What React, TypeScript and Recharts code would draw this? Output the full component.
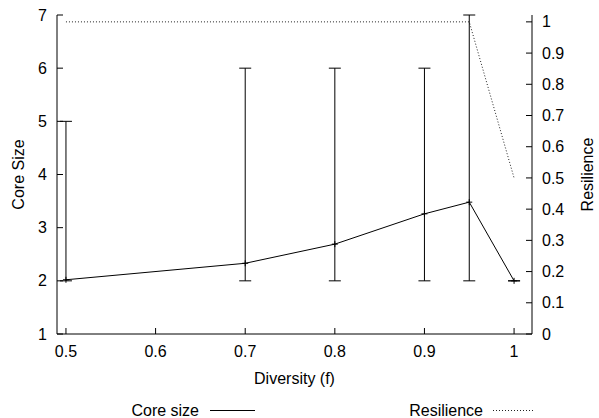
import { ComposedChart, ErrorBar, Line, XAxis, YAxis } from "recharts";

const diversity = [0.5, 0.7, 0.8, 0.9, 0.95, 1.0];
const coreSize = [2.02, 2.33, 2.69, 3.26, 3.48, 2.0];
const coreMin = [2, 2, 2, 2, 2, 2];
const coreMax = [5, 6, 6, 6, 7, 2];
const resilience = [1, 1, 1, 1, 1, 0.5];

const xTicks = [0.5, 0.6, 0.7, 0.8, 0.9, 1];
const coreTicks = [1, 2, 3, 4, 5, 6, 7];
const resilienceTicks = [0, 0.1, 0.2, 0.3, 0.4, 0.5, 0.6, 0.7, 0.8, 0.9, 1];

const FONT = '"Liberation Sans", Arial, sans-serif';
const FONT_SIZE = 16;
const TICK_LEN = 6;

const data = diversity.map((x, i) => ({
  x,
  core: coreSize[i],
  coreErr: [coreSize[i] - coreMin[i], coreMax[i] - coreSize[i]],
  resilience: resilience[i],
}));

function fmt(v: number): string {
  return String(Math.round(v * 10) / 10);
}

// gnuplot style: labels outside, tick marks pointing into the plot
function LeftTick(props: any) {
  const { x, y, payload } = props;
  const axisX = x + 10;
  return (
    <g>
      <line x1={axisX} x2={axisX + TICK_LEN} y1={y} y2={y} stroke="#000" />
      <text x={x} y={y} dy="0.35em" textAnchor="end" fontSize={FONT_SIZE} fontFamily={FONT} fill="#000">
        {fmt(payload.value)}
      </text>
    </g>
  );
}

function RightTick(props: any) {
  const { x, y, payload } = props;
  const axisX = x - 10;
  return (
    <g>
      <line x1={axisX} x2={axisX - TICK_LEN} y1={y} y2={y} stroke="#000" />
      <text x={x} y={y} dy="0.35em" textAnchor="start" fontSize={FONT_SIZE} fontFamily={FONT} fill="#000">
        {fmt(payload.value)}
      </text>
    </g>
  );
}

function BottomTick(props: any) {
  const { x, y, payload } = props;
  const axisY = y - 12;
  return (
    <g>
      <line x1={x} x2={x} y1={axisY} y2={axisY - TICK_LEN} stroke="#000" />
      <text x={x} y={y} dy="0.71em" textAnchor="middle" fontSize={FONT_SIZE} fontFamily={FONT} fill="#000">
        {fmt(payload.value)}
      </text>
    </g>
  );
}

function TopTick(props: any) {
  const { x, y } = props;
  return <line x1={x} x2={x} y1={y} y2={y + TICK_LEN} stroke="#000" />;
}

function AxisTitle(props: any) {
  const { viewBox, title, shiftX = 0, shiftY = 0, turn = 0 } = props;
  const cx = viewBox.x + viewBox.width / 2 + shiftX;
  const cy = viewBox.y + viewBox.height / 2 + shiftY;
  return (
    <text
      x={cx}
      y={cy}
      dy="0.35em"
      transform={turn ? `rotate(${turn} ${cx} ${cy})` : undefined}
      textAnchor="middle"
      fontSize={FONT_SIZE}
      fontFamily={FONT}
      fill="#000"
    >
      {title}
    </text>
  );
}

function PlusDot(props: any) {
  const { cx, cy } = props;
  if (cx == null || cy == null) return null;
  return (
    <path
      d={`M${cx - 3},${cy}h6M${cx},${cy - 3}v6`}
      stroke="#000"
      strokeWidth={1}
    />
  );
}

export default function App() {
  return (
    <div style={{ position: "absolute", left: 0, top: 0, width: 599, height: 418, background: "#fff" }}>
      <ComposedChart
        width={599}
        height={418}
        data={data}
        margin={{ top: 15, right: 0, bottom: 34, left: 0 }}
      >
        <XAxis
          xAxisId="bottom"
          type="number"
          dataKey="x"
          domain={[0.49, 1.02]}
          ticks={xTicks}
          allowDataOverflow
          height={50}
          tickSize={0}
          tickMargin={12}
          tickLine={false}
          axisLine={{ stroke: "#000" }}
          tick={<BottomTick />}
          label={<AxisTitle title="Diversity (f)" shiftY={19} />}
        />
        <XAxis
          xAxisId="top"
          orientation="top"
          type="number"
          dataKey="x"
          domain={[0.49, 1.02]}
          ticks={xTicks}
          allowDataOverflow
          height={0}
          tickSize={0}
          tickMargin={0}
          tickLine={false}
          axisLine={{ stroke: "#000" }}
          tick={<TopTick />}
        />
        <YAxis
          yAxisId="left"
          type="number"
          domain={[1, 7]}
          ticks={coreTicks}
          allowDataOverflow
          width={57}
          tickSize={0}
          tickMargin={10}
          tickLine={false}
          axisLine={{ stroke: "#000" }}
          tick={<LeftTick />}
          label={<AxisTitle title="Core Size" shiftX={-10.5} turn={-90} />}
        />
        <YAxis
          yAxisId="right"
          orientation="right"
          type="number"
          domain={[0, 1.022]}
          ticks={resilienceTicks}
          allowDataOverflow
          width={67}
          tickSize={0}
          tickMargin={10}
          tickLine={false}
          axisLine={{ stroke: "#000" }}
          tick={<RightTick />}
          label={<AxisTitle title="Resilience" shiftX={22} turn={-90} />}
        />
        <Line
          xAxisId="top"
          yAxisId="right"
          dataKey="resilience"
          name="Resilience"
          type="linear"
          stroke="#222"
          strokeWidth={1}
          strokeDasharray="1 2"
          dot={false}
          activeDot={false}
          isAnimationActive={false}
        />
        <Line
          xAxisId="bottom"
          yAxisId="left"
          dataKey="core"
          name="Core size"
          type="linear"
          stroke="#000"
          strokeWidth={1}
          dot={<PlusDot />}
          activeDot={false}
          isAnimationActive={false}
        >
          <ErrorBar
            dataKey="coreErr"
            direction="y"
            width={6}
            stroke="#000"
            strokeWidth={1}
            isAnimationActive={false}
          />
        </Line>
      </ComposedChart>
      <svg
        width={599}
        height={418}
        style={{ position: "absolute", left: 0, top: 0, pointerEvents: "none" }}
      >
        <text x={199} y={415.5} textAnchor="end" fontSize={FONT_SIZE} fontFamily={FONT} fill="#000">
          Core size
        </text>
        <line x1={210} x2={255} y1={410.5} y2={410.5} stroke="#000" />
        <text x={483} y={415.5} textAnchor="end" fontSize={FONT_SIZE} fontFamily={FONT} fill="#000">
          Resilience
        </text>
        <line x1={493} x2={535} y1={410.5} y2={410.5} stroke="#222" strokeDasharray="1 2" />
      </svg>
    </div>
  );
}
